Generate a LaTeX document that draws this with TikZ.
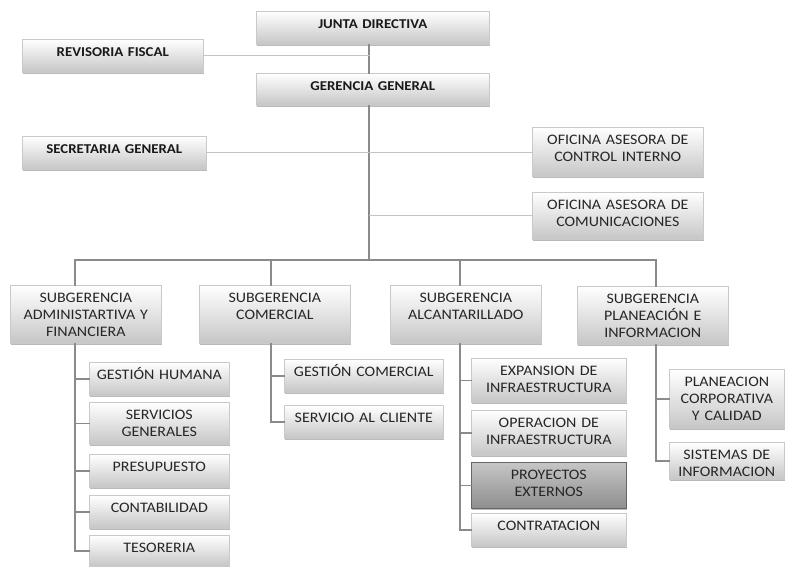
\documentclass[tikz,border=0pt]{standalone}
\usepackage{fontspec}
\setmainfont{Carlito}[FakeStretch=1.1]
\usepackage{tikz}
\usetikzlibrary{shadows,positioning}
\definecolor{boxedge}{HTML}{C9C9C9}
\definecolor{boxshade}{HTML}{C6C6C6}
\definecolor{darktop}{HTML}{C6C6C6}
\definecolor{darkbottom}{HTML}{8E8E8E}
\definecolor{linegray}{HTML}{8A8A8A}
\definecolor{lightline}{HTML}{C4C4C4}
\definecolor{txtgray}{HTML}{262626}
\tikzset{
  unit/.style={draw=boxedge, line width=0.6pt, top color=white, bottom color=boxshade,
    drop shadow={shadow xshift=1pt, shadow yshift=-2pt, fill=black!45, opacity=0.6},
    inner sep=0pt, anchor=north west, align=center, text height=17pt, text=txtgray,
    font=\fontsize{14.5}{17}\selectfont},
  head/.style={unit, text=black!90, font=\fontsize{13.5}{17}\selectfont\bfseries},
  darkunit/.style={unit, draw=black!60, top color=darktop, bottom color=darkbottom},
  tie/.style={draw=linegray, line width=1.5pt},
  thintie/.style={draw=lightline, line width=1pt},
  dottie/.style={draw=lightline, line width=1pt, densely dotted},
}

\begin{document}
\begin{tikzpicture}[x=1pt, y=-1pt, line cap=rect]

  \path[use as bounding box, fill=white] (0,0) rectangle (788,567);

  % direccion
  \node[head, text width=233pt, text depth=16pt] (jd) at (256,11) {JUNTA DIRECTIVA};
  \node[head, text width=181pt, text depth=16pt] (rf) at (22,39) {REVISORIA FISCAL};
  \node[head, text width=233pt, text depth=15pt] (gg) at (256,73) {GERENCIA GENERAL};
  \node[head, text width=184pt, text depth=16pt] (sg) at (22,136) {SECRETARIA GENERAL};
  \node[unit, text width=171pt, text depth=32pt] (oc) at (532,127) {OFICINA ASESORA DE\\CONTROL INTERNO};
  \node[unit, text width=171pt, text depth=30pt] (ocom) at (532,192) {OFICINA ASESORA DE\\COMUNICACIONES};

  % subgerencias
  \node[unit, text width=151pt, text depth=41pt] (s1) at (10,285) {SUBGERENCIA\\ADMINISTARTIVA Y\\FINANCIERA};
  \node[unit, text width=151pt, text depth=41pt] (s2) at (199,285) {SUBGERENCIA\\COMERCIAL};
  \node[unit, text width=151pt, text depth=41pt] (s3) at (390,285) {SUBGERENCIA\\ALCANTARILLADO};
  \node[unit, text width=151pt, text depth=41pt] (s4) at (577,286) {SUBGERENCIA\\PLANEACIÓN E\\INFORMACION};

  % areas
  \node[unit, text width=140pt, text depth=16pt] (gh) at (89,362) {GESTIÓN HUMANA};
  \node[unit, text width=140pt, text depth=25pt] (sgen) at (89,402) {SERVICIOS\\GENERALES};
  \node[unit, text width=140pt, text depth=16pt] (pres) at (89,454) {PRESUPUESTO};
  \node[unit, text width=140pt, text depth=16pt] (cont) at (89,495) {CONTABILIDAD};
  \node[unit, text width=140pt, text depth=14pt] (tes) at (89,535) {TESORERIA};

  \node[unit, text width=159pt, text depth=16pt] (gc) at (284,359) {GESTIÓN COMERCIAL};
  \node[unit, text width=159pt, text depth=16pt] (sc) at (284,405) {SERVICIO AL CLIENTE};

  \node[unit, text width=155pt, text depth=27pt] (exp) at (471,358) {EXPANSION DE\\INFRAESTRUCTURA};
  \node[unit, text width=155pt, text depth=28pt] (op) at (471,410) {OPERACION DE\\INFRAESTRUCTURA};
  \node[darkunit, text width=155pt, text depth=29pt] (proy) at (471,462) {PROYECTOS\\EXTERNOS};
  \node[unit, text width=155pt, text depth=16pt] (contr) at (471,513) {CONTRATACION};

  \node[unit, text width=115pt, text depth=42pt] (pc) at (669,369) {PLANEACION\\CORPORATIVA\\Y CALIDAD};
  \node[unit, text width=115pt, text depth=20pt] (si) at (669,442) {SISTEMAS DE\\INFORMACION};

  % lineas
  \coordinate (trunk) at (369,260);
  \coordinate (b1) at (75,260);
  \coordinate (b2) at (271,260);
  \coordinate (b3) at (460,260);
  \coordinate (b4) at (656,260);

  \draw[tie] (jd.south -| trunk) -- (gg.north -| trunk);
  \draw[tie] (gg.south -| trunk) -- (trunk);
  \draw[thintie] (rf.east) -- (rf.east -| trunk);
  \draw[dottie] (sg.east) -- (sg.east -| oc.west);
  \draw[thintie] (trunk |- ocom.west) -- (ocom.west);

  \draw[tie] (b1) -- (b4);
  \foreach \b/\s in {b1/s1,b2/s2,b3/s3,b4/s4}
    \draw[tie] (\b) -- (\b |- \s.north);

  \draw[tie] (b1 |- s1.south) |- (tes.west);
  \foreach \c in {gh,sgen,pres,cont}
    \draw[tie] (b1 |- \c.west) -- (\c.west);

  \draw[tie] (b2 |- s2.south) |- (sc.west);
  \draw[tie] (b2 |- gc.west) -- (gc.west);

  \draw[tie] (b3 |- s3.south) |- (contr.west);
  \foreach \c in {exp,op,proy}
    \draw[tie] (b3 |- \c.west) -- (\c.west);

  \draw[tie] (b4 |- s4.south) |- (si.west);
  \draw[tie] (b4 |- pc.west) -- (pc.west);

\end{tikzpicture}
\end{document}
